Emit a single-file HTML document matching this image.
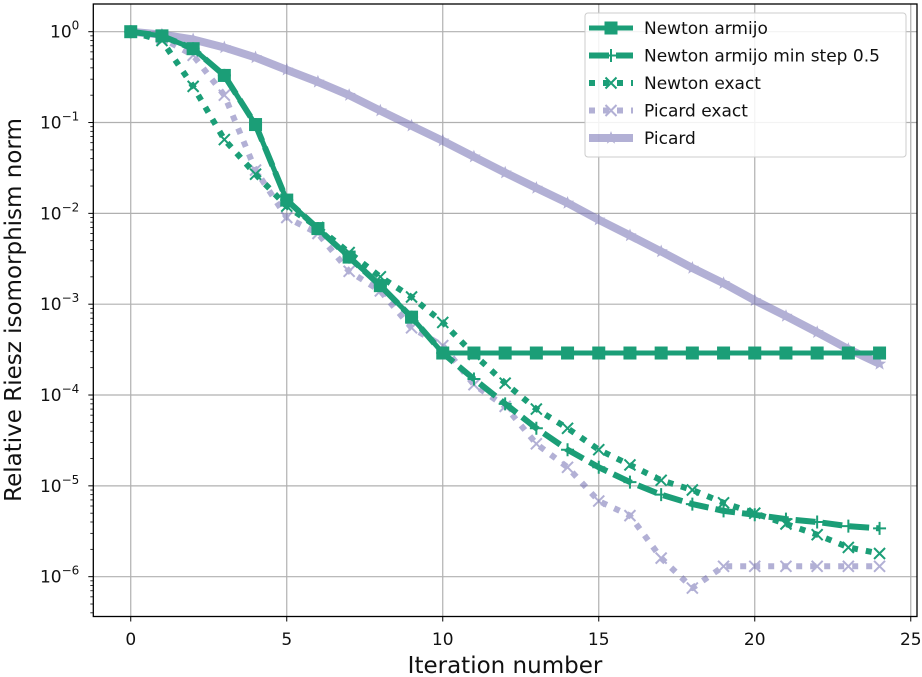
<!DOCTYPE html>
<html><head><meta charset="utf-8"><style>
html,body{margin:0;padding:0;background:#fff;}
svg{display:block;font-family:"DejaVu Sans","Liberation Sans",sans-serif;}
</style></head><body>
<svg id="chart" width="922" height="677" viewBox="0 0 922 677" xmlns="http://www.w3.org/2000/svg"></svg>
<script>
const iterations = [0,1,2,3,4,5,6,7,8,9,10,11,12,13,14,15,16,17,18,19,20,21,22,23,24];
const newtonArmijo = [1,0.9,0.65,0.33,0.095,0.014,0.0068,0.0033,0.0016,7.2e-4,2.9e-4,2.9e-4,2.9e-4,2.9e-4,2.9e-4,2.9e-4,2.9e-4,2.9e-4,2.9e-4,2.9e-4,2.9e-4,2.9e-4,2.9e-4,2.9e-4,2.9e-4];
const newtonArmijoMin = [1,0.9,0.65,0.33,0.095,0.014,0.0068,0.0033,0.0016,7.2e-4,2.9e-4,1.5e-4,8e-5,4.3e-5,2.5e-5,1.6e-5,1.1e-5,8e-6,6.3e-6,5.3e-6,4.8e-6,4.3e-6,4e-6,3.6e-6,3.4e-6];
const newtonExact = [1,0.8,0.25,0.065,0.027,0.012,0.007,0.0037,0.002,0.0012,6.3e-4,2.8e-4,1.35e-4,7e-5,4.3e-5,2.5e-5,1.7e-5,1.15e-5,9e-6,6.5e-6,5e-6,3.8e-6,2.9e-6,2.1e-6,1.8e-6];
const picardExact = [1,0.85,0.55,0.2,0.03,0.009,0.006,0.0023,0.0014,5.5e-4,3.5e-4,1.3e-4,7.5e-5,2.9e-5,1.6e-5,6.8e-6,4.7e-6,1.6e-6,7.5e-7,1.3e-6,1.3e-6,1.3e-6,1.3e-6,1.3e-6,1.3e-6];
const picard = [1,0.93,0.82,0.67,0.52,0.38,0.28,0.2,0.135,0.092,0.063,0.042,0.028,0.019,0.013,0.0085,0.0057,0.0038,0.0025,0.0017,0.0011,7.4e-4,4.9e-4,3.2e-4,2.2e-4];
const xTicks = [0,5,10,15,20,25];
const yTickExps = [0,-1,-2,-3,-4,-5,-6];

const NS = "http://www.w3.org/2000/svg";
const svg = document.getElementById('chart');
const L = 93.3, R = 917, T = 4, B = 616.5;
const xMin = -1.2, xMax = 25.2;
const decade = 90.83, y0px = 31.7;
function xs(v){ return L + (v - xMin) / (xMax - xMin) * (R - L); }
function ys(v){ return y0px - Math.log10(v) * decade; }
function mk(tag, attrs, parent){ const e = document.createElementNS(NS, tag); for (const k in attrs) e.setAttribute(k, attrs[k]); (parent||svg).appendChild(e); return e; }

const defs = mk('defs', {});
const cp = mk('clipPath', {id:'plotclip'}, defs);
mk('rect', {x:L, y:T, width:R-L, height:B-T}, cp);

const grid = mk('g', {});


xTicks.forEach(t => { mk('line', {x1:xs(t), x2:xs(t), y1:T, y2:B, stroke:'#b0b0b0', 'stroke-width':1.2}, grid); });
yTickExps.forEach(e => { const y = ys(Math.pow(10,e)); mk('line', {x1:L, x2:R, y1:y, y2:y, stroke:'#b0b0b0', 'stroke-width':1.2}, grid); });

const green = '#1b9e77', purple = '#7570b3';
function star(cx, cy, r){ let p=''; for(let i=0;i<10;i++){ const a=-Math.PI/2+i*Math.PI/5; const rr=i%2?r*0.42:r; p+=(i?'L':'M')+(cx+rr*Math.cos(a)).toFixed(1)+','+(cy+rr*Math.sin(a)).toFixed(1);} return p+'Z'; }
function drawMarker(g, marker, cx, cy, color){
  if (marker === 's') mk('rect', {x:cx-6.5, y:cy-6.5, width:13, height:13, fill:color}, g);
  else if (marker === '+') mk('path', {d:`M${cx-6.5},${cy}H${cx+6.5}M${cx},${cy-6.5}V${cy+6.5}`, stroke:color, 'stroke-width':2}, g);
  else if (marker === 'x') mk('path', {d:`M${cx-5.5},${cy-5.5}L${cx+5.5},${cy+5.5}M${cx-5.5},${cy+5.5}L${cx+5.5},${cy-5.5}`, stroke:color, 'stroke-width':2}, g);
  else mk('path', {d:star(cx,cy,7), fill:color}, g);
}
function series(name, data, color, opacity, width, dash, marker){
  const g = mk('g', {'clip-path':'url(#plotclip)', opacity:opacity});
  
  
  const pts = data.map((v,i) => xs(iterations[i]).toFixed(1) + ',' + ys(v).toFixed(1)).join(' ');
  const pl = mk('polyline', {points:pts, fill:'none', stroke:color, 'stroke-width':width, 'stroke-linejoin':'round'}, g);
  if (dash) pl.setAttribute('stroke-dasharray', dash);
  data.forEach((v,i) => drawMarker(g, marker, xs(iterations[i]), ys(v), color));
}
series('picard-series', picard, purple, 0.55, 8, null, '*');
series('picard-exact-series', picardExact, purple, 0.55, 6, '6,8', 'x');
series('newton-exact-series', newtonExact, green, 1, 6, '6,8', 'x');
series('newton-armijo-min-step-series', newtonArmijoMin, green, 1, 6, '20,7', '+');
series('newton-armijo-series', newtonArmijo, green, 1, 5, null, 's');

const frame = mk('rect', {x:L, y:T, width:R-L, height:B-T, fill:'none', stroke:'#000', 'stroke-width':1.3});



const xt = mk('g', {});


xTicks.forEach(t => {
  mk('line', {x1:xs(t), x2:xs(t), y1:B, y2:B+5, stroke:'#000', 'stroke-width':1}, xt);
  const tx = mk('text', {x:xs(t), y:645, 'text-anchor':'middle', 'font-size':17, fill:'#111'}, xt);
  tx.textContent = t;
});
const yt = mk('g', {});


yTickExps.forEach(e => {
  const y = ys(Math.pow(10,e));
  mk('line', {x1:L-5, x2:L, y1:y, y2:y, stroke:'#000', 'stroke-width':1}, yt);
  const tx = mk('text', {x:L-14, y:y+6, 'text-anchor':'end', 'font-size':17, fill:'#111'}, yt);
  tx.textContent = '10';
  const sup = mk('tspan', {dy:-8, 'font-size':12}, tx);
  sup.textContent = e === 0 ? '0' : '\u2212' + (-e);
});
for (let e = 0; e >= -7; e--) {
  for (let m = 2; m <= 9; m++) {
    const y = ys(m * Math.pow(10, e - 1));
    if (y < T || y > B) continue;
    mk('line', {x1:L-3, x2:L, y1:y, y2:y, stroke:'#000', 'stroke-width':0.8}, yt);
  }
}

const xl = mk('text', {x:505, y:673, 'text-anchor':'middle', 'font-size':23, fill:'#111'});


xl.textContent = 'Iteration number';
const yl = mk('text', {x:0, y:0, 'text-anchor':'middle', 'font-size':23, fill:'#111', transform:'translate(21,310) rotate(-90)'});


yl.textContent = 'Relative Riesz isomorphism norm';

const lg = mk('g', {});


mk('rect', {x:585, y:13, width:321, height:144, rx:3, fill:'#fff', 'fill-opacity':0.85, stroke:'#ccc', 'stroke-width':1}, lg);
const entries = [
  ['Newton armijo', green, 1, 5, null, 's'],
  ['Newton armijo min step 0.5', green, 1, 6, '20,7', '+'],
  ['Newton exact', green, 1, 6, '6,8', 'x'],
  ['Picard exact', purple, 0.55, 6, '6,8', 'x'],
  ['Picard', purple, 0.55, 8, null, '*']
];
entries.forEach((en, i) => {
  const y = 28 + i * 27.5;
  const g = mk('g', {}, lg);
  
  
  const sg = mk('g', {opacity:en[2]}, g);
  const ln = mk('line', {x1:589, x2:633, y1:y, y2:y, stroke:en[1], 'stroke-width':en[3]}, sg);
  if (en[4]) ln.setAttribute('stroke-dasharray', en[4]);
  drawMarker(sg, en[5], 611, y, en[1]);
  const tx = mk('text', {x:644, y:y+6, 'font-size':17, fill:'#111'}, g);
  tx.textContent = en[0];
});
</script>
</body></html>
